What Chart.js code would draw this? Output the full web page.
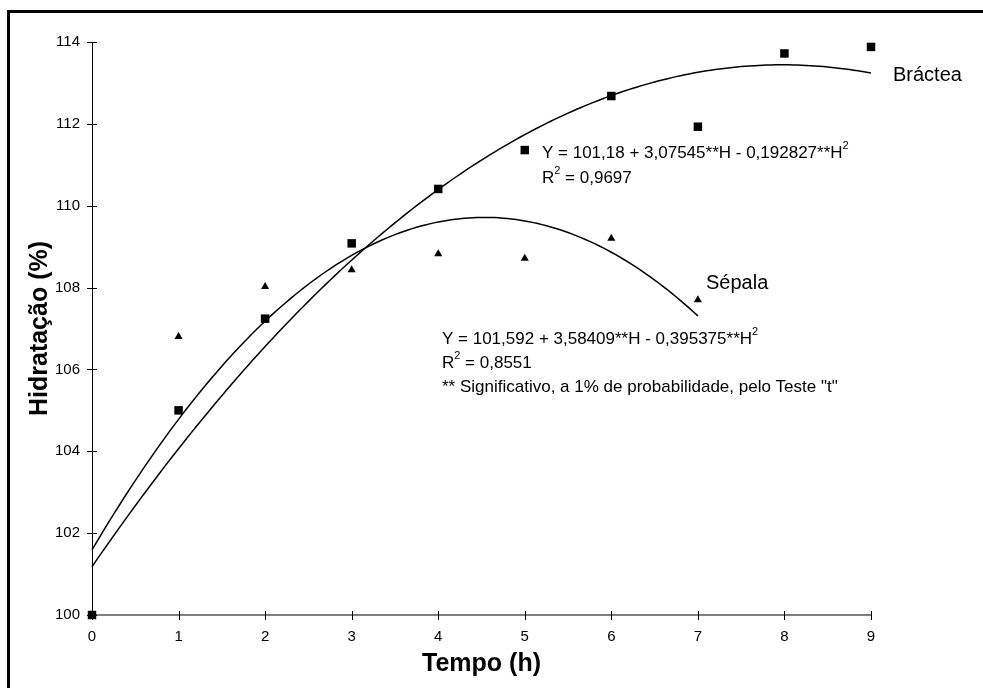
<!DOCTYPE html>
<html>
<head>
<meta charset="utf-8">
<title>Hidratação</title>
<script src="https://cdn.jsdelivr.net/npm/chart.js@4.4.1/dist/chart.umd.min.js"></script>
<style>
  html, body { margin: 0; padding: 0; background: #fff; }
  #wrap { width: 983px; height: 688px; }
</style>
</head>
<body>
<div id="wrap"><canvas id="chart" width="983" height="688"></canvas></div>
<script>
// observed hydration (%) per hour
const tempo = [0, 1, 2, 3, 4, 5, 6, 7, 8, 9];
const bractea = [100, 105.0, 107.24, 109.08, 110.41, 111.36, 112.68, 111.93, 113.72, 113.88];
const sepala = [100, 106.8, 108.02, 108.43, 108.82, 108.71, 109.2, 107.7];

// quadratic fits  Y = a + b*H + c*H^2
const bracteaCoef = [101.18, 3.07545, -0.192827];
const sepalaCoef = [101.592, 3.58409, -0.395375];

const yTicks = [100, 102, 104, 106, 108, 110, 112, 114];
const xTicks = [0, 1, 2, 3, 4, 5, 6, 7, 8, 9];

const FONT = "'Liberation Sans', Arial, Helvetica, sans-serif";

function fitCurve(coef, hMax) {
    const pts = [];
    for (let i = 0; i <= hMax * 20; i++) {
        const h = i / 20;
        pts.push({ x: h, y: coef[0] + coef[1] * h + coef[2] * h * h });
    }
    return pts;
}

const points = (ys) => ys.map((v, i) => ({ x: tempo[i], y: v }));

// frame around the figure and tick marks crossing both axes
const axisMarks = {
    id: 'axisMarks',
    beforeDatasetsDraw(chart) {
        const { ctx, scales: { x, y } } = chart;
        ctx.save();
        ctx.strokeStyle = '#000';
        ctx.lineWidth = 1;
        ctx.beginPath();
        y.ticks.forEach(t => {
            const py = Math.round(y.getPixelForValue(t.value)) + 0.5;
            ctx.moveTo(x.left - 5, py);
            ctx.lineTo(x.left + 5, py);
        });
        x.ticks.forEach(t => {
            const px = Math.round(x.getPixelForValue(t.value)) + 0.5;
            ctx.moveTo(px, y.bottom - 4);
            ctx.lineTo(px, y.bottom + 5);
        });
        ctx.stroke();
        ctx.restore();
    },
    afterDraw(chart) {
        const { ctx } = chart;
        ctx.save();
        ctx.fillStyle = '#000';
        ctx.fillRect(7, 10, 3, chart.height - 10);
        ctx.fillRect(7, 10, chart.width - 7, 3);
        ctx.restore();
    }
};

// curve names and regression equations
const notes = [
    { x: 893, y: 75, size: 20, parts: [['Bráctea']] },
    { x: 542, y: 153, size: 17, parts: [['Y = 101,18 + 3,07545**H - 0,192827**H'], ['2', true]] },
    { x: 542, y: 178, size: 17, parts: [['R'], ['2', true], [' = 0,9697']] },
    { x: 706, y: 283, size: 20, parts: [['Sépala']] },
    { x: 442, y: 339, size: 17, parts: [['Y = 101,592 + 3,58409**H - 0,395375**H'], ['2', true]] },
    { x: 442, y: 363, size: 17, parts: [['R'], ['2', true], [' = 0,8551']] },
    { x: 442, y: 387, size: 17, parts: [['** Significativo, a 1% de probabilidade, pelo Teste "t"']] }
];

const annotations = {
    id: 'annotations',
    afterDatasetsDraw(chart) {
        const { ctx } = chart;
        ctx.save();
        ctx.fillStyle = '#000';
        ctx.textAlign = 'left';
        ctx.textBaseline = 'middle';
        notes.forEach(n => {
            let cx = n.x;
            n.parts.forEach(([txt, sup]) => {
                const size = sup ? Math.round(n.size * 0.65) : n.size;
                ctx.font = size + 'px ' + FONT;
                ctx.fillText(txt, cx, sup ? n.y - n.size * 0.4 : n.y);
                cx += ctx.measureText(txt).width;
            });
        });
        ctx.restore();
    }
};

new Chart(document.getElementById('chart').getContext('2d'), {
    type: 'scatter',
    data: {
        datasets: [
            {
                label: 'Bráctea',
                data: points(bractea),
                pointStyle: 'rect',
                pointRadius: 6,
                backgroundColor: '#000',
                borderColor: '#000',
                borderWidth: 0,
                clip: false
            },
            {
                label: 'Sépala',
                data: points(sepala),
                pointStyle: 'triangle',
                pointRadius: 4.7,
                backgroundColor: '#000',
                borderColor: '#000',
                borderWidth: 0,
                clip: false
            },
            {
                label: 'Bráctea ajustada',
                data: fitCurve(bracteaCoef, 9),
                showLine: true,
                pointRadius: 0,
                borderColor: '#000',
                borderWidth: 1.5,
                tension: 0,
                clip: false
            },
            {
                label: 'Sépala ajustada',
                data: fitCurve(sepalaCoef, 7),
                showLine: true,
                pointRadius: 0,
                borderColor: '#000',
                borderWidth: 1.5,
                tension: 0,
                clip: false
            }
        ]
    },
    options: {
        responsive: false,
        animation: false,
        layout: { padding: { left: 0, top: 42, right: 112, bottom: 0 } },
        plugins: {
            legend: { display: false },
            tooltip: { enabled: false }
        },
        scales: {
            x: {
                type: 'linear',
                min: 0,
                max: 9,
                afterBuildTicks: s => { s.ticks = xTicks.map(v => ({ value: v })); },
                afterFit: s => { s.height = 73; },
                grid: { display: false, drawTicks: false },
                border: { color: '#7f7f7f', width: 2 },
                ticks: { color: '#000', padding: 13, font: { family: FONT, size: 15 } },
                title: {
                    display: true,
                    text: 'Tempo (h)',
                    color: '#000',
                    padding: { top: 0, bottom: 9 },
                    font: { family: FONT, size: 25, weight: 'bold' }
                }
            },
            y: {
                type: 'linear',
                min: 100,
                max: 114,
                afterBuildTicks: s => { s.ticks = yTicks.map(v => ({ value: v })); },
                afterFit: s => { s.width = 92; },
                grid: { display: false, drawTicks: false },
                border: { color: '#000', width: 1 },
                ticks: { color: '#000', padding: 12, font: { family: FONT, size: 15 } },
                title: {
                    display: true,
                    text: 'Hidratação (%)',
                    color: '#000',
                    padding: { top: 25, bottom: 0 },
                    font: { family: FONT, size: 25, weight: 'bold' }
                }
            }
        }
    },
    plugins: [axisMarks, annotations]
});
</script>
</body>
</html>
